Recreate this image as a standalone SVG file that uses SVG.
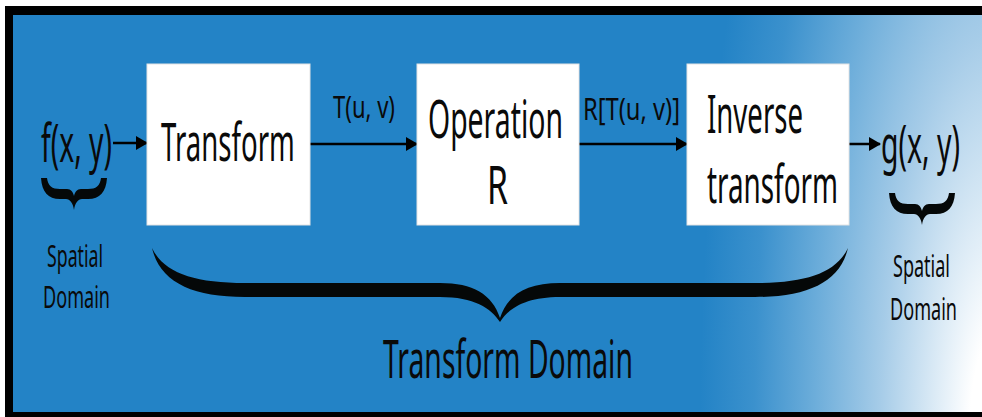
<svg xmlns="http://www.w3.org/2000/svg" width="982" height="417" viewBox="0 0 982 417">
<defs>
<radialGradient id="bg" gradientUnits="userSpaceOnUse" cx="1000" cy="430" r="300" gradientTransform="translate(1000 430) scale(1 3.33) translate(-1000 -430)">
<stop offset="0" stop-color="#ffffff"/>
<stop offset="0.1" stop-color="#ffffff"/>
<stop offset="0.4" stop-color="#a6cce8"/>
<stop offset="0.62" stop-color="#6cadda"/>
<stop offset="0.82" stop-color="#3b91cd"/>
<stop offset="1" stop-color="#2383c6"/>
</radialGradient>
<marker id="ah" markerUnits="userSpaceOnUse" markerWidth="12" markerHeight="14" refX="11" refY="7" orient="auto">
<path d="M0,0 L12,7 L0,14 Z" fill="#000"/>
</marker>
<style>
.box{fill:#ffffff;stroke:#e4e4e4;stroke-width:1}
.big{font-family:"Noto Sans","Liberation Sans",sans-serif;font-size:52px;fill:#0a0a0a}
.mid{font-family:"Noto Sans","Liberation Sans",sans-serif;font-size:31px;fill:#0a0a0a}
.sm{font-family:"Noto Sans","Liberation Sans",sans-serif;font-size:30px;fill:#0a0a0a}
.conn{stroke:#000;stroke-width:2.5;fill:none;marker-end:url(#ah)}
.brace{fill:#050808}
</style>
</defs>
<rect x="0" y="0" width="982" height="417" fill="#ffffff"/>
<rect x="5" y="6" width="977" height="411" fill="#000"/>
<rect x="13" y="15" width="969" height="397" fill="url(#bg)"/>

<g id="connectors">
<line class="conn" x1="113" y1="143" x2="147" y2="143"/>
<line class="conn" x1="310" y1="144" x2="417" y2="144"/>
<line class="conn" x1="579" y1="144" x2="687" y2="144"/>
<line class="conn" x1="849" y1="144" x2="880" y2="144"/>
</g>

<g id="input">
<text class="big" transform="translate(41 162) scale(0.55 1)" textLength="129" lengthAdjust="spacingAndGlyphs">f(x, y)</text>
<path class="brace" d="M41,178 L47,178 C48,186 52,189 60,189 L67,189 C71,189 73,192 74,196 C75,192 77,189 81,189 L88,189 C96,189 100,186 101,178 L107,178 C106,192 100,199 88,199 L82,199 C78,199 75,203 74,210 C73,203 70,199 66,199 L60,199 C48,199 42,192 41,178 Z"/>
<text class="sm" transform="translate(47 267) scale(0.59 1)" textLength="95" lengthAdjust="spacingAndGlyphs">Spatial</text>
<text class="sm" transform="translate(43 308) scale(0.6 1)" textLength="111.7" lengthAdjust="spacingAndGlyphs">Domain</text>
</g>

<g id="transform">
<rect class="box" x="147" y="64" width="163" height="161"/>
<text class="big" transform="translate(161 161) scale(0.525 1)" textLength="255" lengthAdjust="spacingAndGlyphs">Transform</text>
</g>

<g id="label-t">
<text class="mid" transform="translate(333 118) scale(0.71 1)" textLength="87.3" lengthAdjust="spacingAndGlyphs">T(u, v)</text>
</g>

<g id="operation">
<rect class="box" x="417" y="64" width="162" height="161"/>
<text class="big" transform="translate(428 138) scale(0.544 1)" textLength="248" lengthAdjust="spacingAndGlyphs">Operation</text>
<text class="big" transform="translate(487 204) scale(0.67 1)" textLength="31.3" lengthAdjust="spacingAndGlyphs">R</text>
</g>

<g id="label-r">
<text class="mid" transform="translate(583 120) scale(0.776 1)" textLength="125" lengthAdjust="spacingAndGlyphs">R[T(u, v)]</text>
</g>

<g id="inverse">
<rect class="box" x="687" y="64" width="162" height="161"/>
<text class="big" transform="translate(707 133) scale(0.537 1)" textLength="178.8" lengthAdjust="spacingAndGlyphs">Inverse</text>
<text class="big" transform="translate(707 203) scale(0.534 1)" textLength="245.3" lengthAdjust="spacingAndGlyphs">transform</text>
</g>

<g id="output">
<text class="big" transform="translate(881 163) scale(0.565 1)" textLength="139.8" lengthAdjust="spacingAndGlyphs">g(x, y)</text>
<path class="brace" d="M889,193 L895,193 C896,201 900,204 908,204 L915,204 C919,204 921,207 922,211 C923,207 925,204 929,204 L936,204 C944,204 948,201 949,193 L955,193 C954,207 948,214 936,214 L930,214 C926,214 923,218 922,225 C921,218 918,214 914,214 L908,214 C896,214 890,207 889,193 Z"/>
<text class="sm" transform="translate(893 277) scale(0.6 1)" textLength="95" lengthAdjust="spacingAndGlyphs">Spatial</text>
<text class="sm" transform="translate(890 320) scale(0.6 1)" textLength="111.7" lengthAdjust="spacingAndGlyphs">Domain</text>
</g>

<g id="transform-domain">
<path class="brace" d="M152,248 C160,282 192,297 245,297 L440,297 C474,297 491,308 500,322 C509,308 526,297 560,297 L755,297 C808,297 840,282 848,248 C836,273 806,283 755,283 L560,283 C527,283 508,294 500,318 C492,294 473,283 440,283 L245,283 C194,283 164,273 152,248 Z"/>
<text class="big" transform="translate(383 378) scale(0.541 1)" textLength="462" lengthAdjust="spacingAndGlyphs">Transform Domain</text>
</g>
</svg>
